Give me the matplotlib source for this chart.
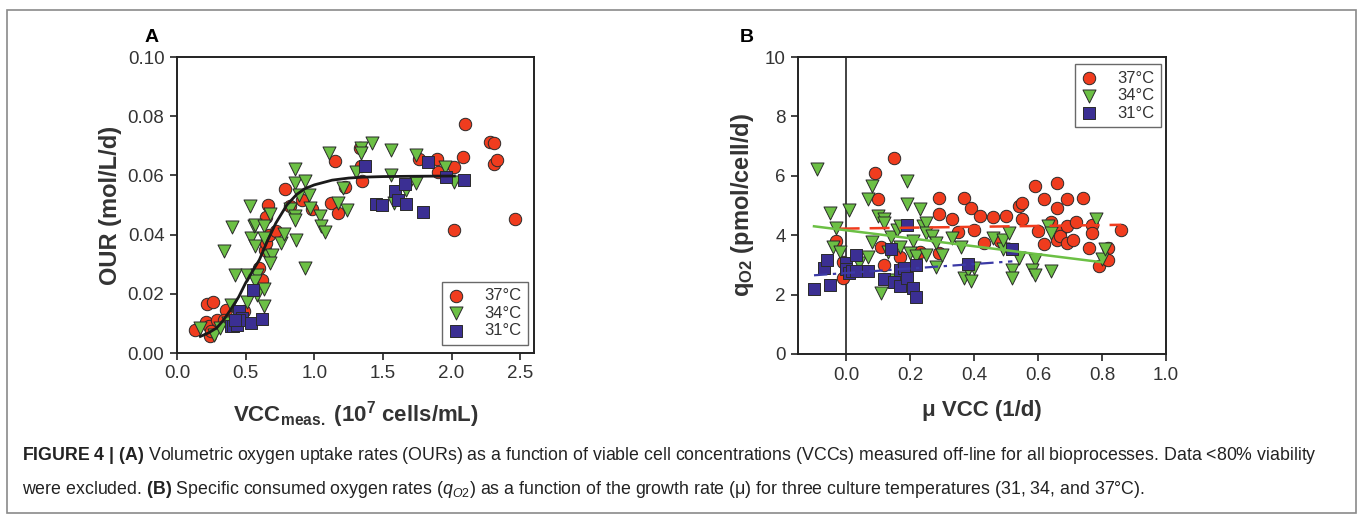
import numpy as np
import matplotlib
matplotlib.use("Agg")
import matplotlib.pyplot as plt
from matplotlib.patches import Rectangle

plt.rcParams['font.family'] = ['Liberation Sans', 'DejaVu Sans']
plt.rcParams['mathtext.fontset'] = 'custom'
plt.rcParams['mathtext.rm'] = 'Liberation Sans'
plt.rcParams['mathtext.it'] = 'Liberation Sans:italic'
plt.rcParams['mathtext.bf'] = 'Liberation Sans:bold'

# ---- Panel A: OUR vs VCC ----
a37_x = [0.13, 0.21, 0.22, 0.26, 0.23, 0.24, 0.25, 0.29, 0.36, 0.34, 0.49, 0.60, 0.62,
         0.64, 0.65, 0.65, 0.66, 0.67, 0.72, 0.79, 0.82, 0.91, 0.98, 1.12, 1.15, 1.17,
         1.22, 1.33, 1.34, 1.35, 1.76, 1.89, 1.90, 2.02, 2.02, 2.08, 2.10, 2.28, 2.31,
         2.31, 2.33, 2.46]
a37_y = [0.0077, 0.0105, 0.0167, 0.0171, 0.0090, 0.0059, 0.0075, 0.0113, 0.0146, 0.0113,
         0.0143, 0.0287, 0.0248, 0.0349, 0.0370, 0.0460, 0.0501, 0.0400, 0.0411, 0.0554,
         0.0498, 0.0518, 0.0485, 0.0507, 0.0648, 0.0473, 0.0561, 0.0693, 0.0633, 0.0580,
         0.0654, 0.0654, 0.0611, 0.0629, 0.0414, 0.0663, 0.0775, 0.0713, 0.0710, 0.0640,
         0.0651, 0.0453]

a34_x = [0.17, 0.27, 0.31, 0.34, 0.37, 0.39, 0.40, 0.42, 0.51, 0.51, 0.53, 0.54, 0.56,
         0.57, 0.57, 0.58, 0.58, 0.57, 0.63, 0.63, 0.63, 0.63, 0.66, 0.68, 0.69, 0.68,
         0.76, 0.78, 0.82, 0.86, 0.86, 0.86, 0.86, 0.87, 0.89, 0.93, 0.93, 0.96, 0.97,
         1.04, 1.05, 1.08, 1.11, 1.17, 1.21, 1.24, 1.30, 1.34, 1.34, 1.42, 1.56, 1.56,
         1.58, 1.67, 1.74, 1.74, 1.95, 2.02]
a34_y = [0.0085, 0.0062, 0.0085, 0.0346, 0.0101, 0.0163, 0.0425, 0.0265, 0.0171, 0.0265,
         0.0496, 0.0389, 0.0428, 0.0361, 0.0434, 0.0265, 0.0197, 0.0242, 0.0428, 0.0389,
         0.0216, 0.0160, 0.0327, 0.0468, 0.0332, 0.0304, 0.0372, 0.0402, 0.0487, 0.0622,
         0.0575, 0.0464, 0.0450, 0.0383, 0.0535, 0.0580, 0.0287, 0.0535, 0.0490, 0.0462,
         0.0428, 0.0408, 0.0674, 0.0507, 0.0558, 0.0482, 0.0611, 0.0693, 0.0674, 0.0708,
         0.0685, 0.0601, 0.0507, 0.0552, 0.0575, 0.0670, 0.0629, 0.0577]

a31_x = [0.39, 0.41, 0.44, 0.45, 0.47, 0.45, 0.42, 0.54, 0.55, 0.62, 1.37, 1.45, 1.49,
         1.59, 1.61, 1.66, 1.67, 1.79, 1.83, 1.96, 2.09]
a31_y = [0.0090, 0.0090, 0.0096, 0.0143, 0.0118, 0.0113, 0.0110, 0.0101, 0.0212, 0.0115,
         0.0631, 0.0505, 0.0501, 0.0546, 0.0516, 0.0571, 0.0504, 0.0475, 0.0646, 0.0594,
         0.0584]

# fitted curve
fitA_x = [0.17, 0.23, 0.29, 0.34, 0.39, 0.45, 0.50, 0.55, 0.60, 0.66, 0.72, 0.80, 0.87,
          0.93, 1.00, 1.13, 1.25, 1.35, 1.50, 1.70, 2.02]
fitA_y = [0.0056, 0.0068, 0.0085, 0.0112, 0.0146, 0.0190, 0.0237, 0.0276, 0.0315, 0.0380,
          0.0439, 0.0500, 0.0535, 0.0555, 0.0568, 0.0584, 0.0591, 0.0594, 0.0596, 0.0597,
          0.0598]

# ---- Panel B: qO2 vs mu ----
b37_x = [-0.03, -0.01, -0.01, 0.09, 0.10, 0.11, 0.12, 0.15, 0.17, 0.23, 0.29, 0.29, 0.29,
         0.33, 0.35, 0.37, 0.39, 0.40, 0.42, 0.43, 0.46, 0.48, 0.50, 0.54, 0.55, 0.55,
         0.59, 0.60, 0.62, 0.62, 0.64, 0.66, 0.66, 0.67, 0.66, 0.67, 0.69, 0.69, 0.69,
         0.71, 0.72, 0.74, 0.76, 0.77, 0.77, 0.79, 0.82, 0.82, 0.86]
b37_y = [3.80, 3.09, 2.56, 6.11, 5.21, 3.59, 2.99, 6.61, 3.26, 3.43, 5.26, 4.73, 3.40,
         4.53, 4.11, 5.26, 4.91, 4.19, 4.66, 3.74, 4.62, 3.79, 4.66, 4.98, 5.07, 4.55,
         5.66, 4.14, 5.21, 3.71, 4.44, 5.75, 4.90, 4.11, 3.83, 3.97, 3.74, 4.30, 5.21,
         3.83, 4.45, 5.26, 3.57, 4.35, 4.06, 2.95, 3.57, 3.18, 4.17]

b34_x = [-0.09, -0.05, -0.03, -0.04, -0.02, 0.01, 0.04, 0.07, 0.08, 0.08, 0.07, 0.10, 0.12,
         0.12, 0.11, 0.13, 0.14, 0.15, 0.16, 0.17, 0.17, 0.19, 0.19, 0.21, 0.20, 0.23,
         0.22, 0.24, 0.25, 0.25, 0.25, 0.27, 0.28, 0.28, 0.30, 0.33, 0.36, 0.37, 0.38,
         0.39, 0.40, 0.46, 0.49, 0.49, 0.51, 0.52, 0.52, 0.54, 0.59, 0.58, 0.59, 0.63,
         0.64, 0.64, 0.78, 0.80, 0.81]
b34_y = [6.22, 4.75, 4.25, 3.61, 3.43, 4.85, 3.06, 5.23, 5.66, 3.76, 3.27, 4.64, 4.53,
         4.42, 2.05, 3.43, 3.93, 2.50, 4.19, 3.61, 4.31, 5.04, 5.83, 3.80, 3.40, 4.87,
         3.29, 4.31, 4.42, 4.06, 3.35, 3.97, 3.74, 2.93, 3.35, 3.89, 3.61, 2.56, 2.82,
         2.45, 2.90, 3.91, 3.52, 3.85, 4.06, 2.82, 2.56, 3.23, 3.18, 2.82, 2.67, 4.30,
         4.06, 2.78, 4.55, 3.20, 3.54]

b31_x = [-0.10, -0.07, -0.06, -0.05, 0.00, 0.00, 0.01, 0.02, 0.03, 0.03, 0.07, 0.12, 0.14,
         0.15, 0.17, 0.17, 0.18, 0.19, 0.19, 0.21, 0.22, 0.22, 0.38, 0.52]
b31_y = [2.19, 2.90, 3.18, 2.31, 3.06, 2.86, 2.73, 2.78, 3.35, 2.78, 2.78, 2.52, 3.52,
         2.41, 2.28, 2.84, 2.90, 2.56, 4.33, 2.22, 2.99, 1.92, 3.02, 3.52]

# linear trend lines, end points
trend37_x, trend37_y = [-0.02, 0.86], [4.22, 4.35]
trend34_x, trend34_y = [-0.10, 0.80], [4.30, 3.09]
trend31_x, trend31_y = [-0.10, 0.52], [2.65, 3.12]

labels = ['37°C', '34°C', '31°C']

RED = '#f03c1e'
GREEN = '#6cc045'
BLUE = '#3b2f93'
EDGE = '#2a2a2a'
TXT = '#333333'

W, H = 1358, 515
fig = plt.figure(figsize=(W / 100, H / 100), dpi=100)

axA = fig.add_axes([177 / W, 1 - 353 / H, 357 / W, 296 / H])
axB = fig.add_axes([798 / W, 1 - 354 / H, 368 / W, 297 / H])


def scatter_sets(ax, sets):
    for (x, y), mk, col, sz, lab in zip(sets, ['o', 'v', 's'], [RED, GREEN, BLUE],
                                        [80, 88, 64], labels):
        ax.scatter(x, y, marker=mk, s=sz, c=col, edgecolors=EDGE, linewidths=0.7,
                   label=lab, zorder=3)


def style_axis(ax):
    for sp in ax.spines.values():
        sp.set_linewidth(1.4)
        sp.set_color('#222222')
    ax.tick_params(axis='both', direction='out', length=5, width=1.2,
                   labelsize=13.5, colors='#222222', labelcolor=TXT, pad=4)
    ax.tick_params(top=False, right=False)


scatter_sets(axA, [(a37_x, a37_y), (a34_x, a34_y), (a31_x, a31_y)])
axA.plot(fitA_x, fitA_y, color='#1a1a1a', lw=2, zorder=4)
axA.set_xlim(0, 2.6)
axA.set_ylim(0, 0.1)
axA.set_xticks([0, 0.5, 1.0, 1.5, 2.0, 2.5])
axA.set_yticks([0, 0.02, 0.04, 0.06, 0.08, 0.10])
axA.xaxis.set_major_formatter(matplotlib.ticker.FormatStrFormatter('%.1f'))
axA.yaxis.set_major_formatter(matplotlib.ticker.FormatStrFormatter('%.2f'))
style_axis(axA)
axA.set_ylabel('OUR (mol/L/d)', fontsize=17, fontweight='bold', color=TXT, labelpad=4)
axA.set_xlabel(r'VCC$_{\mathbf{meas.}}$ (10$^{\mathbf{7}}$ cells/mL)', fontsize=16,
               fontweight='bold', color=TXT, labelpad=12)

scatter_sets(axB, [(b37_x, b37_y), (b34_x, b34_y), (b31_x, b31_y)])
axB.plot(trend37_x, trend37_y, color=RED, lw=1.8, ls=(0, (8, 4)), zorder=4)
axB.plot(trend34_x, trend34_y, color=GREEN, lw=1.8, zorder=4)
axB.plot(trend31_x, trend31_y, color='#3b3aa6', lw=1.6, ls=(0, (6, 2.5, 1.5, 2.5)), zorder=4)
axB.axvline(0, color='#222222', lw=1.2, zorder=2)
axB.set_xlim(-0.15, 1.0)
axB.set_ylim(0, 10)
axB.set_xticks([0, 0.2, 0.4, 0.6, 0.8, 1.0])
axB.set_yticks([0, 2, 4, 6, 8, 10])
axB.xaxis.set_major_formatter(matplotlib.ticker.FormatStrFormatter('%.1f'))
style_axis(axB)
axB.set_ylabel(r'q$_{\mathbf{O2}}$ (pmol/cell/d)', fontsize=17, fontweight='bold',
               color=TXT, labelpad=6)
axB.set_xlabel('μ VCC (1/d)', fontsize=16, fontweight='bold', color=TXT, labelpad=12)

leg_kw = dict(frameon=True, fancybox=False, edgecolor='#444444', fontsize=12,
              handlelength=0.8, handletextpad=1.3, labelspacing=0.15, borderpad=0.4,
              borderaxespad=0)
legA = axA.legend(loc='lower right', bbox_to_anchor=(0.983, 0.027), **leg_kw)
legB = axB.legend(loc='upper right', bbox_to_anchor=(0.986, 0.976), **leg_kw)
for leg in (legA, legB):
    leg.get_frame().set_linewidth(1.0)
    for t in leg.get_texts():
        t.set_color(TXT)

fig.text(145 / W, 1 - 37 / H, 'A', fontsize=14, fontweight='bold', va='center')
fig.text(740 / W, 1 - 37 / H, 'B', fontsize=14, fontweight='bold', va='center')

cap1 = (r'$\mathbf{FIGURE\ 4\ |\ (A)}$ Volumetric oxygen uptake rates (OURs) as a function of '
        'viable cell concentrations (VCCs) measured off-line for all bioprocesses. '
        'Data <80% viability')
cap2 = (r'were excluded. $\mathbf{(B)}$ Specific consumed oxygen rates '
        r'($\mathit{q}_{\mathit{O2}}$) as a function of the growth rate (μ) for three '
        'culture temperatures (31, 34, and 37°C).')
fig.text(22 / W, 1 - 456 / H, cap1, fontsize=12.8, color='#222222', va='center')
fig.text(22 / W, 1 - 490 / H, cap2, fontsize=12.8, color='#222222', va='center')

fig.patches.append(Rectangle((7 / W, 2 / H), 1349 / W, (H - 12) / H, transform=fig.transFigure,
                             fill=False, edgecolor='#8a8a8a', lw=1.2))

fig.savefig('out.png', dpi=100)
